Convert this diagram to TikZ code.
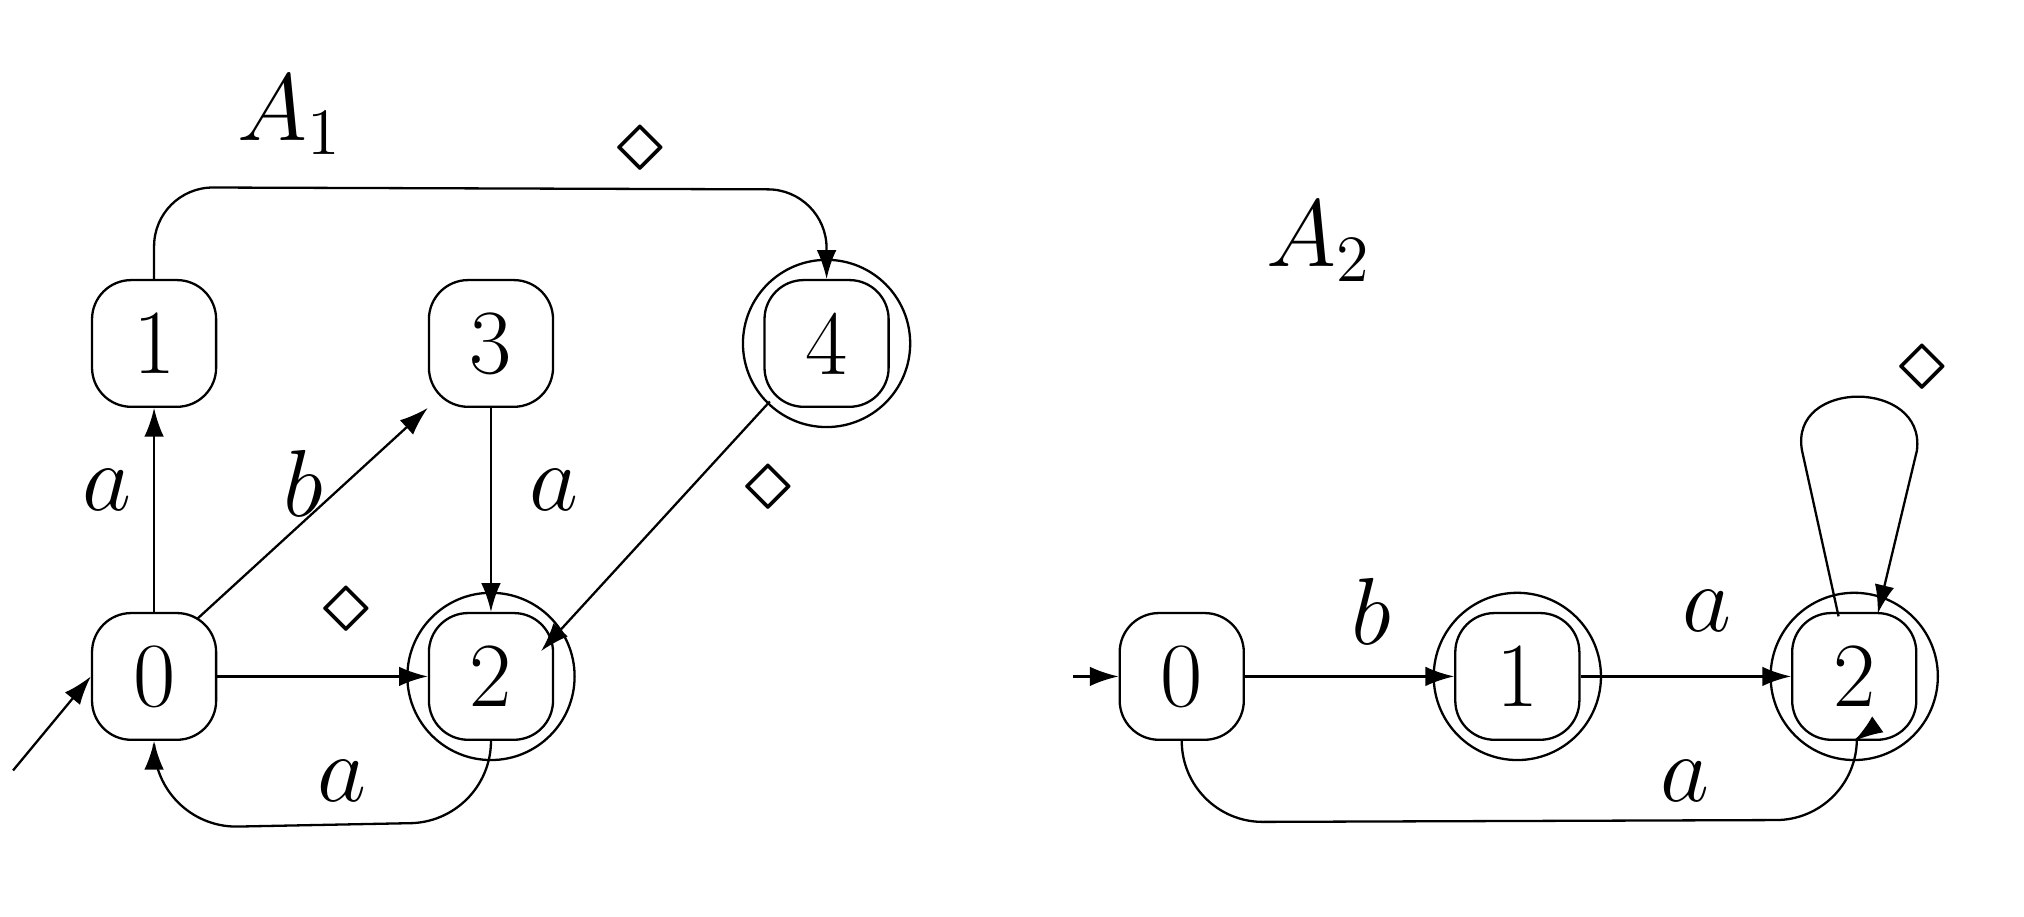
\documentclass[tikz,border=0pt]{standalone}
\usetikzlibrary{arrows.meta,calc}
\begin{document}
\begin{tikzpicture}[x=0.01cm,y=-0.01cm,
  st/.style={draw,rounded corners=0.3cm,minimum width=0.95cm,minimum height=0.97cm,inner sep=0pt,font=\fontsize{20}{24}\selectfont},
  acc/.style={draw,circle,minimum size=1.28cm,inner sep=0pt},
  lb/.style={font=\fontsize{20}{24}\selectfont\itshape},
  >={Latex[length=2.2mm,width=1.5mm]}, line width=0.5pt]
\useasboundingbox (0,0) rectangle (1550,702);
% A1
\node[lb] (t1) at (222,88) {$A_1$};
\node[st] (n0) at (118,518) {0};
\node[st] (n1) at (118,263) {1};
\node[st] (n3) at (376,263) {3};
\node[st] (n4) at (633,263) {4};
\node[st] (n2) at (376,518) {2};
\node[acc] (c4) at (633,263) {};
\node[acc] (c2) at (376,518) {};
\coordinate (i1) at (10,590);
\draw[->] (i1) -- (n0.west);
\draw[->] (n0) -- (n1);
\draw[->] ($(n0.north east)+(-15,5)$) -- (n3.south west);
\draw[->] (n3) -- (n2);
\draw[->] (n0) -- (n2);
\draw[->] ($(n4.south west)+(5,-5)$) -- ($(n2.north east)+(-10,30)$);
\draw[->] (n1.north) -- ++(0,-25) arc[start angle=180,end angle=270,radius=45] -- (588,145) arc[start angle=270,end angle=360,radius=45] -- (n4.north);
\draw[->] (n2.south) arc[start angle=0,end angle=90,radius=63] -- (181,633) arc[start angle=90,end angle=180,radius=63] -- (n0.south);
\node[lb] (la1) at (82,375) {$a$};
\node[lb] (lb1) at (232,370) {$b$};
\node[lb] (la3) at (424,375) {$a$};
\node[lb] (la4) at (262,598) {$a$};
\node[lb] (d1) at (490,115) {$\diamond$};
\node[lb] (d2) at (588,375) {$\diamond$};
\node[lb] (d3) at (265,468) {$\diamond$};
% A2
\node[lb] (t2) at (1010,185) {$A_2$};
\node[st] (m0) at (905,518) {0};
\node[st] (m1) at (1162,518) {1};
\node[st] (m2) at (1420,518) {2};
\node[acc] (k1) at (1162,518) {};
\node[acc] (k2) at (1420,518) {};
\coordinate (i2) at (822,518);
\draw[->] (i2) -- (m0);
\draw[->] (m0) -- (m1);
\draw[->] (m1) -- (m2);
\draw[->] (m0.south) arc[start angle=180,end angle=90,radius=62] -- (1360,628) arc[start angle=90,end angle=0,radius=62] -- (m2.south);
\draw[->] (1408,472) -- (1380,345) .. controls (1370,290) and (1475,290) .. (1468,345) -- (1438,470);
\node[lb] (lb2) at (1050,468) {$b$};
\node[lb] (la5) at (1307,468) {$a$};
\node[lb] (la6) at (1290,598) {$a$};
\node[lb] (d4) at (1472,283) {$\diamond$};
\end{tikzpicture}
\end{document}
